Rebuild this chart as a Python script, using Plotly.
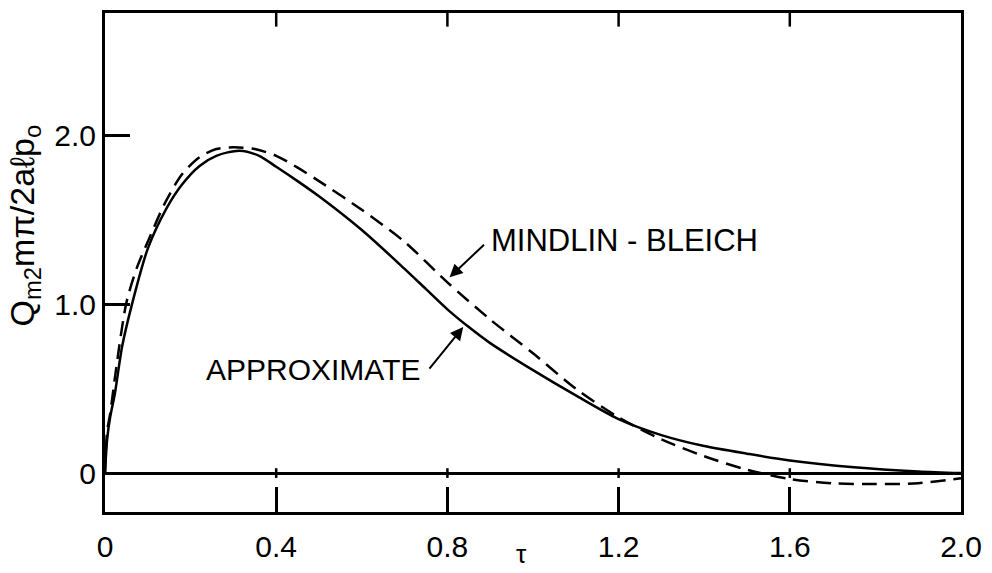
import plotly.graph_objects as go

# Data
approx_x = [0, 0.005, 0.012, 0.023, 0.04, 0.063, 0.1, 0.144, 0.18, 0.221, 0.26, 0.314, 0.36, 0.40, 0.45,
            0.5, 0.6, 0.7, 0.75, 0.8, 0.85, 0.9, 1.0, 1.1, 1.2, 1.3, 1.4, 1.5, 1.6, 1.75, 1.9, 2.0]
approx_y = [0, 0.2, 0.33, 0.47, 0.75, 1.0, 1.33, 1.57, 1.71, 1.82, 1.88, 1.91, 1.88, 1.815, 1.73,
            1.64, 1.44, 1.21, 1.09, 0.97, 0.865, 0.77, 0.61, 0.46, 0.32, 0.225, 0.16, 0.115, 0.075, 0.035, 0.01, 0.0]

mb_x = [0, 0.005, 0.012, 0.025, 0.05, 0.075, 0.105, 0.14, 0.18, 0.22, 0.26, 0.30, 0.35, 0.40, 0.45,
        0.5, 0.6, 0.7, 0.8, 0.9, 1.0, 1.1, 1.2, 1.3, 1.4, 1.5, 1.6, 1.7, 1.8, 1.9, 2.0]
mb_y = [0, 0.25, 0.35, 0.6, 1.01, 1.22, 1.40, 1.60, 1.77, 1.87, 1.92, 1.93, 1.92, 1.88, 1.81,
        1.73, 1.56, 1.37, 1.13, 0.91, 0.71, 0.50, 0.33, 0.20, 0.10, 0.02, -0.035, -0.06, -0.065, -0.06, -0.03]

x_ticks = [0, 0.4, 0.8, 1.2, 1.6, 2.0]
x_ticktext = ["0", "0.4", "0.8", "1.2", "1.6", "2.0"]
y_ticks = [0, 1.0, 2.0]
y_ticktext = ["0", "1.0", "2.0"]
inner_x_ticks = [0.4, 0.8, 1.2, 1.6]

FONT = "Liberation Sans, Arial, sans-serif"
X_RANGE = [0, 2]
Y_RANGE = [-0.2305, 2.726]
PLOT_H = 573 - 10 - 50
PX = PLOT_H / (Y_RANGE[1] - Y_RANGE[0])  # pixels per y unit

fig = go.Figure()
fig.add_trace(go.Scatter(x=approx_x, y=approx_y, mode="lines",
                         line=dict(color="black", width=2.5, shape="spline", smoothing=0.8),
                         name="APPROXIMATE", showlegend=False))
fig.add_trace(go.Scatter(x=mb_x, y=mb_y, mode="lines",
                         line=dict(color="black", width=2.5, dash="15px,8px", shape="spline", smoothing=0.8),
                         name="MINDLIN-BLEICH", showlegend=False))

# tick decorations: short ticks hanging from the top frame and small crossings on the zero line
tx, ty = [], []
for v in inner_x_ticks:
    tx += [v, v, None, v, v, None]
    ty += [Y_RANGE[1], Y_RANGE[1] - 14 / PX, None, 5 / PX, -5 / PX, None]
fig.add_trace(go.Scatter(x=tx, y=ty, mode="lines", line=dict(color="black", width=2.5),
                         showlegend=False, hoverinfo="skip", connectgaps=False))

fig.update_layout(
    width=992, height=573,
    margin=dict(l=105, r=27, t=10, b=50),
    paper_bgcolor="white", plot_bgcolor="white",
    font=dict(family=FONT, color="black"),
    xaxis=dict(range=X_RANGE, tickvals=x_ticks, ticktext=x_ticktext, ticks="inside", ticklen=25,
               tickwidth=2.5, tickcolor="black", showline=True, linecolor="black", linewidth=3,
               mirror=True, showgrid=False, zeroline=False,
               tickfont=dict(size=30, family=FONT, color="black"), ticklabelstandoff=6),
    yaxis=dict(range=Y_RANGE, tickvals=y_ticks, ticktext=y_ticktext, ticks="inside", ticklen=25,
               tickwidth=2.5, tickcolor="black", showline=True, linecolor="black", linewidth=3,
               mirror=True, showgrid=False, zeroline=True, zerolinecolor="black", zerolinewidth=2.5,
               tickfont=dict(size=30, family=FONT, color="black"), ticklabelstandoff=0),
)

fig.add_annotation(text="MINDLIN - BLEICH", xref="paper", yref="paper", xanchor="center", yanchor="middle",
                   x=(627 - 105) / 860, y=(523 - 244) / 513, showarrow=False,
                   font=dict(size=31, family=FONT, color="black"))
fig.add_annotation(text="APPROXIMATE", xref="paper", yref="paper", xanchor="center", yanchor="middle",
                   x=(314 - 105) / 860, y=(523 - 377) / 513, showarrow=False,
                   font=dict(size=30, family=FONT, color="black"))
# arrows
fig.add_annotation(text="", x=0.805, y=1.16, xref="x", yref="y", ax=36, ay=-34, showarrow=True,
                   arrowhead=2, arrowsize=1.3, arrowwidth=2, arrowcolor="black")
fig.add_annotation(text="", x=0.837, y=0.865, xref="x", yref="y", ax=-35, ay=43, showarrow=True,
                   arrowhead=2, arrowsize=1.3, arrowwidth=2, arrowcolor="black")
# axis titles
fig.add_annotation(text="τ", xref="x", yref="paper", x=0.972, y=(523 - 566) / 513,
                   xanchor="center", yanchor="middle", showarrow=False,
                   font=dict(size=26, family=FONT, color="black"))
fig.add_annotation(text="Q<sub>m2</sub>mπ/2aℓp<sub>o</sub>", xref="paper", yref="paper",
                   x=(24 - 105) / 860, y=(523 - 228) / 513, xanchor="center", yanchor="middle",
                   textangle=-90, showarrow=False,
                   font=dict(size=34, family=FONT, color="black"))

fig.write_html("out.html")
